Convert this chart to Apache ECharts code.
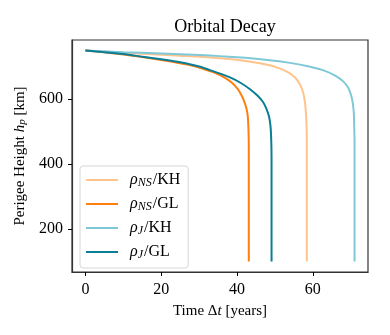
<!DOCTYPE html>
<html>
<head>
<meta charset="utf-8">
<script src="https://cdn.jsdelivr.net/npm/echarts@6/dist/echarts.min.js"></script>
<style>
  html, body { margin: 0; padding: 0; background: #fff; }
  #chart { width: 390px; height: 335px; }
</style>
</head>
<body>
<div id="chart"></div>
<script>
// time in years, perigee height in km
var nsKH = [[0,750],[10,743],[20,737],[30,731],[38,724],[44,715],[48,706],[51,696],[53.5,683],[55.3,667],[56.5,648],[57.3,626],[57.8,600],[58.1,570],[58.3,530],[58.4,480],[58.4,100]];
var nsGL = [[0,750],[5,745],[10,738],[15,730],[20,721],[25,711],[28,704],[31,694],[34,682],[36.5,668],[38.5,652],[40,634],[41,616],[41.8,596],[42.4,575],[42.8,550],[43.0,510],[43.1,450],[43.1,100]];
var jKH = [[0,750],[10,745],[20,741],[30,736],[40,729],[48,721],[54,712],[59,701],[63,688],[66,672],[68,655],[69.3,636],[70.1,612],[70.5,590],[70.8,560],[70.9,520],[71.0,470],[71.0,100]];
var jGL = [[0,750],[5,745],[10,739],[15,731],[20,723],[25,714],[30,701],[34,685],[38,668],[41,650],[43.5,630],[45.5,610],[46.8,592],[47.7,572],[48.4,548],[48.8,520],[49.0,480],[49.1,420],[49.1,100]];

var seriesNames = ["nsKH", "nsGL", "jKH", "jGL"];
var seriesData = [nsKH, nsGL, jKH, jGL];
var colors = ["#ffc48c", "#ff7f0e", "#7fc8d8", "#0a7e94"];
var xTicks = [0, 20, 40, 60];
var yTicks = [200, 400, 600];

var font = "Liberation Serif";

var legendText = {
  nsKH: "{i|ρ}{s|NS}{n|/KH}",
  nsGL: "{i|ρ}{s|NS}{n|/GL}",
  jKH: "{i|ρ}{s|J}{n|/KH}",
  jGL: "{i|ρ}{s|J}{n|/GL}"
};

var myChart = echarts.init(document.getElementById("chart"));

var option = {
  animation: false,
  title: {
    text: "Orbital Decay",
    left: 220,
    top: 13,
    textAlign: "center",
    textStyle: { fontFamily: font, fontSize: 18, fontWeight: "normal", color: "#000" }
  },
  legend: {
    orient: "vertical",
    left: 80,
    top: 166,
    padding: [6, 8, 7, 6],
    itemGap: 7,
    itemWidth: 32,
    itemHeight: 2,
    icon: "rect",
    backgroundColor: "#fff",
    borderColor: "#d6d6d6",
    borderWidth: 1,
    borderRadius: 3,
    data: seriesNames,
    formatter: function (name) { return legendText[name]; },
    textStyle: {
      fontFamily: font,
      fontSize: 16,
      lineHeight: 16,
      color: "#000",
      padding: [0, 0, 0, 7],
      rich: {
        i: { fontFamily: font, fontStyle: "italic", fontSize: 16, color: "#000" },
        s: { fontFamily: font, fontStyle: "italic", fontSize: 12, color: "#000", padding: [6, 1, 0, 0] },
        n: { fontFamily: font, fontSize: 16, color: "#000" }
      }
    }
  },
  grid: {
    left: 72,
    right: 22,
    top: 40,
    bottom: 63,
    show: true,
    borderColor: "#333",
    borderWidth: 1.2
  },
  xAxis: {
    type: "value",
    min: -3.55,
    max: 74.55,
    name: "{n|Time Δ}{i|t}{n| [years]}",
    nameLocation: "middle",
    nameGap: 32,
    nameTextStyle: {
      rich: {
        n: { fontFamily: font, fontSize: 15, color: "#000" },
        i: { fontFamily: font, fontSize: 15, fontStyle: "italic", color: "#000" }
      }
    },
    splitLine: { show: false },
    axisLine: { show: true, onZero: false, lineStyle: { color: "#333", width: 1.2 } },
    axisTick: { show: true, length: 4, customValues: xTicks, lineStyle: { color: "#000" } },
    axisLabel: { customValues: xTicks, margin: 10, fontFamily: font, fontSize: 16, color: "#000" }
  },
  yAxis: {
    type: "value",
    min: 67.5,
    max: 782.5,
    name: "{n|Perigee Height }{i|h}{s|p}{n| [km]}",
    nameLocation: "middle",
    nameGap: 37,
    nameRotate: 90,
    nameTextStyle: {
      rich: {
        n: { fontFamily: font, fontSize: 15, color: "#000" },
        i: { fontFamily: font, fontSize: 15, fontStyle: "italic", color: "#000" },
        s: { fontFamily: font, fontSize: 11, fontStyle: "italic", color: "#000", padding: [6, 0, 0, 0] }
      }
    },
    splitLine: { show: false },
    axisLine: { show: true, onZero: false, lineStyle: { color: "#333", width: 1.2 } },
    axisTick: { show: true, length: 4, customValues: yTicks, lineStyle: { color: "#000" } },
    axisLabel: { customValues: yTicks, margin: 9, fontFamily: font, fontSize: 16, color: "#000" }
  },
  series: seriesNames.map(function (name, k) {
    return {
      name: name,
      type: "line",
      data: seriesData[k],
      smooth: 0.3,
      symbol: "none",
      color: colors[k],
      lineStyle: { width: 2, color: colors[k] }
    };
  })
};

myChart.setOption(option);
</script>
</body>
</html>
